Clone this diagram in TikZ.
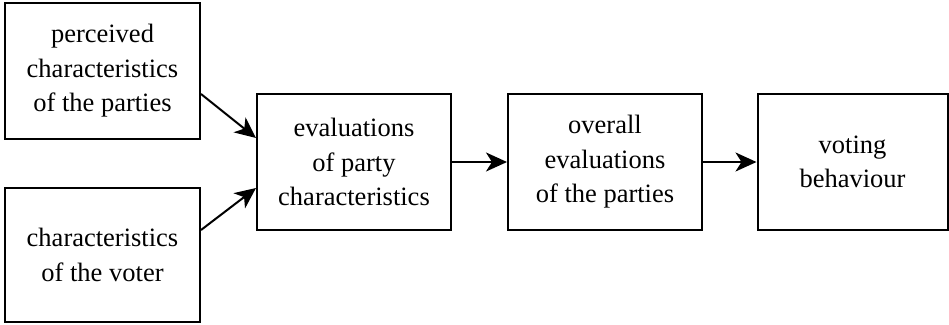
\documentclass[tikz,border=0pt]{standalone}
\usepackage{fontspec}
\setmainfont{Liberation Serif}
\usetikzlibrary{arrows.meta}

\tikzset{
  box/.style={draw, line width=2pt, align=center, inner sep=0pt,
              font=\fontsize{26.5}{34.5}\selectfont},
  arr/.style={line width=2pt, -{Stealth[length=21pt,width=19pt,inset=6pt]}}
}

\begin{document}
\begin{tikzpicture}[x=1pt,y=1pt]
  \useasboundingbox (0,0) rectangle (949,-324);

  % input boxes
  \node[box, minimum width=195pt, minimum height=136pt] (b1) at (102.5,-71)
    {perceived\\characteristics\\of the parties};
  \node[box, minimum width=195pt, minimum height=134pt] (b2) at (102.5,-255)
    {characteristics\\of the voter};

  % chain of evaluations
  \node[box, minimum width=194pt, minimum height=136pt] (b3) at (354,-162)
    {evaluations\\of party\\characteristics};
  \node[box, minimum width=194pt, minimum height=136pt] (b4) at (605,-162)
    {overall\\evaluations\\of the parties};
  \node[box, minimum width=190pt, minimum height=136pt] (b5) at (852.5,-162)
    {voting\\behaviour};

  % connectors
  \draw[arr] ([yshift=-23pt]b1.east) -- ([yshift=24pt]b3.west);
  \draw[arr] ([yshift=25pt]b2.east) -- ([yshift=-26pt]b3.west);
  \draw[arr] (b3.east) -- (b4.west);
  \draw[arr] (b4.east) -- (b5.west);
\end{tikzpicture}
\end{document}
